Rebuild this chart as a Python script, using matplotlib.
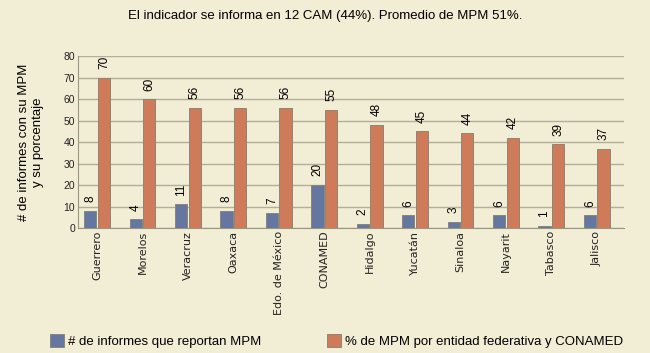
import matplotlib.pyplot as plt
import numpy as np

# ----- Data -----
entidades = ["Guerrero", "Morelos", "Veracruz", "Oaxaca", "Edo. de México", "CONAMED",
             "Hidalgo", "Yucatán", "Sinaloa", "Nayarit", "Tabasco", "Jalisco"]
informes = [8, 4, 11, 8, 7, 20, 2, 6, 3, 6, 1, 6]
porcentaje = [70, 60, 56, 56, 56, 55, 48, 45, 44, 42, 39, 37]

bg = "#f2edd5"
azul = "#6577a1"
naranja = "#cf7a58"

plt.rcParams['font.family'] = ['Liberation Sans', 'DejaVu Sans']

fig = plt.figure(figsize=(6.5, 3.53), dpi=100, facecolor=bg)
ax = fig.add_axes([0.12, 0.354, 0.84, 0.487], facecolor=bg)

x = np.arange(len(entidades))
w = 0.27
b1 = ax.bar(x - 0.15, informes, w, color=azul, edgecolor="#8a8676", linewidth=0.7, zorder=3,
            label="# de informes que reportan MPM")
b2 = ax.bar(x + 0.15, porcentaje, w, color=naranja, edgecolor="#8a8676", linewidth=0.7, zorder=3,
            label="% de MPM por entidad federativa y CONAMED")

# value labels, rotated, a bit above each bar
for xi, v in zip(x, informes):
    ax.text(xi - 0.15, v + 4, str(v), rotation=90, ha="center", va="bottom", fontsize=8.5)
for xi, v in zip(x, porcentaje):
    ax.text(xi + 0.15, v + 4, str(v), rotation=90, ha="center", va="bottom", fontsize=8.5)

ax.set_xlim(-0.42, 11.6)
ax.set_ylim(0, 80)
ax.set_yticks(range(0, 81, 10))
ax.yaxis.grid(True, color="#b3ae98", linewidth=1, zorder=0)
ax.set_axisbelow(True)
ax.set_xticks(x)
ax.set_xticklabels(entidades, rotation=90, fontsize=8, family="DejaVu Sans")
ax.tick_params(axis="both", length=0, pad=2, colors="#222222")
ax.tick_params(axis="y", labelsize=7.5)
for s in ["top", "right"]:
    ax.spines[s].set_visible(False)
ax.spines["left"].set_color("#9a9684")
ax.spines["bottom"].set_color("#9a9684")

ax.set_ylabel("# de informes con su MPM\ny su porcentaje", fontsize=9.5, labelpad=14)

fig.text(0.5, 0.955, "El indicador se informa en 12 CAM (44%). Promedio de MPM 51%.",
         ha="center", va="center", fontsize=9.5)

fig.legend(handles=[b1, b2], loc="lower left", bbox_to_anchor=(0.077, 0.014), ncol=2,
           frameon=False, fontsize=9.5, handlelength=1.06, handleheight=1.2,
           handletextpad=0.3, columnspacing=5.0, borderpad=0, borderaxespad=0)

fig.savefig("out.png", dpi=100, facecolor=bg)
